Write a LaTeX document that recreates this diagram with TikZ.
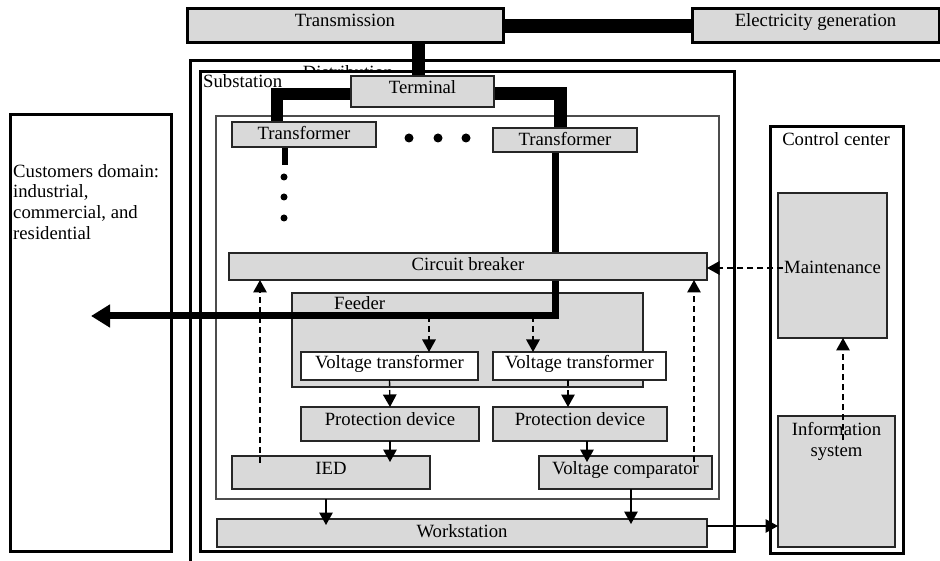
\documentclass[tikz,border=0pt]{standalone}
\usepackage{fontspec}
\setmainfont{Liberation Serif}
\usetikzlibrary{arrows.meta,calc}
\definecolor{boxgray}{RGB}{217,217,217}
\pgfdeclarelayer{frames}
\pgfdeclarelayer{wires}
\pgfsetlayers{frames,wires,main}

\begin{document}
\begin{tikzpicture}[x=1pt,y=-1pt,
  font=\fontsize{18.7}{20.8}\selectfont,
  unit/.style={draw=black!85, line width=1.6pt, fill=boxgray, inner sep=0pt,
    outer sep=0pt, anchor=north west, text height=18pt},
  heavy/.style={draw=black, line width=3pt},
  area/.style={inner sep=0pt, outer sep=0pt, anchor=north west},
  caption/.style={inner sep=0pt},
  bus/.style={line width=13pt, black},
  tipA/.style={-{Triangle[length=12.5pt,width=13.5pt]}},
  darr/.style={line width=1.4pt, dash pattern=on 6pt off 4pt, tipA},
  sarr/.style={line width=1.4pt, tipA},
]
\useasboundingbox (0,0) rectangle (940,561);

% ---------- outer frames ----------
\begin{pgfonlayer}{frames}
  % distribution domain (runs off the page to the right and bottom)
  \draw[heavy] (950,61) -- (190,61) -- (190,575);
  \node[caption, anchor=base] (distlbl) at (348,79) {Distribution};
  % substation
  \node[area, heavy, fill=white, minimum width=534pt, minimum height=479pt]
    (sub) at (200,72) {};
  \node[caption, anchor=base west] (sublbl) at (203,88) {Substation};
  % switching area inside the substation
  \node[area, draw=black!70, line width=1.5pt, minimum width=503pt,
    minimum height=383pt] (inner) at (216,116) {};
  % feeder
  \node[area, draw=black!85, line width=1.6pt, fill=boxgray,
    minimum width=351pt, minimum height=94pt] (feeder) at (292,293) {};
  \node[caption, anchor=base west] (feedlbl) at (334,310) {Feeder};
  % customers
  \node[area, heavy, minimum width=161pt, minimum height=436pt]
    (cust) at (10,115) {};
  \node[caption, anchor=north west, align=left] (custlbl) at (13,164)
    {Customers domain:\\industrial,\\commercial, and\\residential};
  % control center
  \node[area, heavy, minimum width=133pt, minimum height=426pt]
    (ctrl) at (770,127) {};
  \node[caption, anchor=base] (ctrllbl) at (836,146) {Control center};
\end{pgfonlayer}

% ---------- equipment ----------
\node[unit, heavy, draw=black, minimum width=316pt, text depth=16pt]
  (trans) at (187,9) {Transmission};
\node[unit, heavy, draw=black, minimum width=247pt, text depth=16pt]
  (gen) at (692,9) {Electricity generation};
\node[unit, minimum width=143pt, text depth=13pt] (term) at (351,76) {Terminal};
\node[unit, minimum width=144pt, text depth=7pt] (trafoL) at (232,122) {Transformer};
\node[unit, minimum width=144pt, text depth=6pt] (trafoR) at (493,128) {Transformer};
\node[unit, minimum width=478pt, text depth=9pt] (cb) at (229,253) {Circuit breaker};
\node[unit, fill=white, minimum width=177pt, text height=16pt, text depth=12pt]
  (vt1) at (301,352) {Voltage transformer};
\node[unit, fill=white, minimum width=173pt, text height=16pt, text depth=12pt]
  (vt2) at (493,352) {Voltage transformer};
\node[unit, minimum width=178pt, text height=18.5pt, text depth=15.5pt]
  (pd1) at (301,407) {Protection device};
\node[unit, minimum width=174pt, text height=18.5pt, text depth=15.5pt]
  (pd2) at (493,407) {Protection device};
\node[unit, minimum width=198pt, text depth=15pt] (ied) at (232,456) {IED};
\node[unit, minimum width=173pt, text depth=15pt] (vc) at (539,456) {Voltage comparator};
\node[unit, minimum width=490pt, text height=18.5pt, text depth=9.5pt]
  (ws) at (217,519) {Workstation};
\node[unit, minimum width=109pt, text height=81pt, text depth=64pt]
  (maint) at (778,193) {Maintenance};
\node[unit, minimum width=117pt, minimum height=131pt] (info) at (778,416) {};
\node[caption, anchor=north, align=center] (infolbl) at ([yshift=-6pt]info.north)
  {Information\\system};

% ---------- power lines ----------
\coordinate (tUp) at ([xshift=-4pt]term.north);
\coordinate (tL) at ([yshift=-2.5pt]term.west);
\coordinate (xL) at ([xshift=-27pt]trafoL.north);
\coordinate (tR) at ([yshift=-2.5pt]term.east);
\coordinate (xR) at ([xshift=-5pt]trafoR.north);
\coordinate (dL) at ([xshift=-19pt]trafoL.south);
\coordinate (fB) at ([xshift=-10pt]trafoR.south);
\coordinate (fk) at (fB |- 0,316);
\coordinate (load) at (91,316);
\begin{pgfonlayer}{wires}
  \draw[line width=14pt] (trans.east) -- (gen.west);
  \draw[bus] (tUp |- trans.south) -- (tUp);
  \draw[bus, line width=12pt] (tL) -| (xL);
  \draw[bus] (tR) -| (xR);
  \draw[line width=6.5pt] (dL) -- ++(0,18);
  \draw[line width=7pt, -{Triangle[length=19pt,width=22pt]}] (fB) -- (fk) -- (load);
\end{pgfonlayer}
% further transformers
\foreach \px in {409,438,466} \fill (\px,138) circle[radius=4.5pt];
\foreach \py in {177,197,218} \fill (284,\py) circle[radius=3.5pt];

% ---------- signal paths ----------
\draw[darr] (fk -| 429,0) -- (vt1.north -| 429,0);
\draw[darr] (fk -| 533,0) -- (vt2.north -| 533,0);
\draw[darr] (vt1.south) -- (pd1.north);
\draw[darr] (vt2.south -| 568,0) -- (pd2.north -| 568,0);
\draw[sarr] (pd1.south) -- ($(ied.north -| pd1.south)+(0,6)$);
\draw[sarr] (pd2.south -| 587,0) -- ($(vc.north -| 587,0)+(0,6)$);
\draw[darr] ($(ied.north -| 260,0)+(0,7)$) -- (cb.south -| 260,0);
\draw[darr] ($(vc.north -| 694,0)+(0,6)$) -- (cb.south -| 694,0);
\draw[sarr] (inner.south -| 326,0) -- ($(ws.north -| 326,0)+(0,6)$);
\draw[sarr] (vc.south -| 631,0) -- ($(ws.north -| 631,0)+(0,5)$);
\coordinate (wsOut) at ([yshift=7pt]ws.east);
\draw[sarr] (wsOut) -- (wsOut -| info.west);
\coordinate (iUp) at ([xshift=6.5pt,yshift=-24pt]info.north);
\draw[darr] (iUp) -- (iUp |- maint.south);
\coordinate (mOut) at ([xshift=5pt,yshift=-2.5pt]maint.west);
\draw[darr] (mOut) -- (mOut -| cb.east);
\end{tikzpicture}
\end{document}
